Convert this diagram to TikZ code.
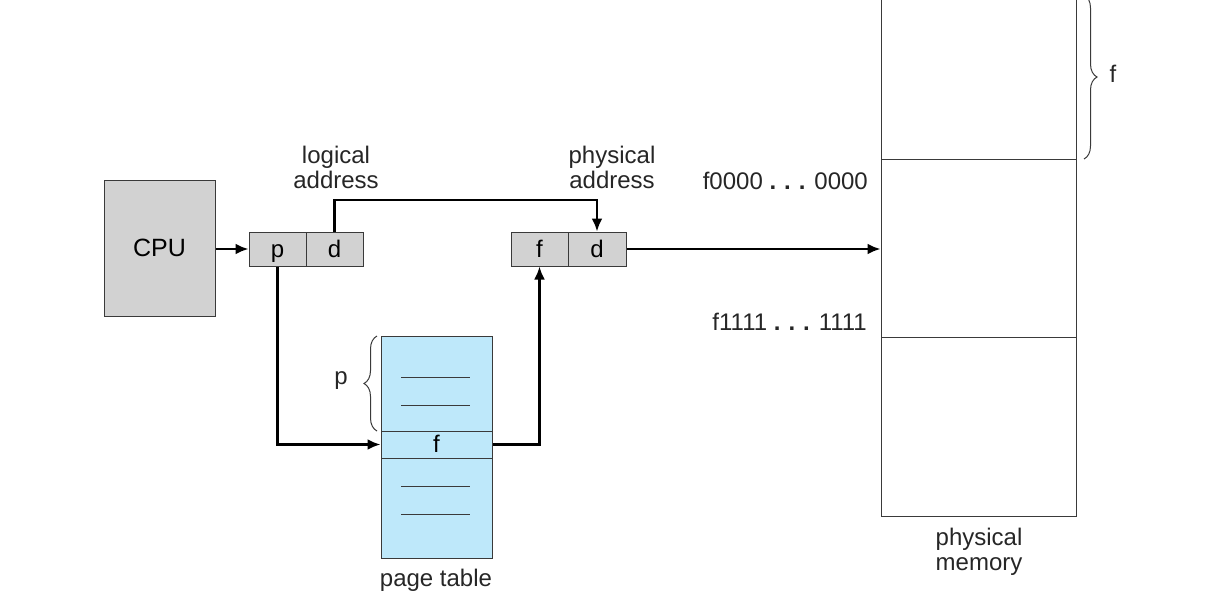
\documentclass[tikz,border=0pt]{standalone}
\usepackage{fontspec}
\setmainfont{Liberation Sans}
\usetikzlibrary{arrows.meta,decorations.pathreplacing,calc}
\definecolor{boxgray}{HTML}{D2D2D2}
\definecolor{ptblue}{HTML}{BEE8FA}
\definecolor{edge}{HTML}{3A3A3A}
\begin{document}
\begin{tikzpicture}[x=1pt,y=-1pt,
  lbl/.style={font=\fontsize{24}{25}\selectfont, text=black!85, inner sep=0pt, align=center},
  cell/.style={draw=edge, line width=1pt, fill=boxgray, minimum width=57pt, minimum height=34pt, inner sep=0pt, text height=17pt, text depth=1pt, font=\fontsize{24}{26}\selectfont},
  ptcell/.style={draw=edge, line width=1pt, fill=ptblue, minimum width=111pt, inner sep=0pt, font=\fontsize{24}{26}\selectfont},
  memcell/.style={draw=edge, line width=1pt, fill=white, minimum width=195pt, inner sep=0pt},
  arr/.style={line width=2.4pt, -{Latex[length=13pt,width=11pt]}},
  bracestyle/.style={draw=edge, line width=1pt, decorate, decoration={brace, amplitude=13pt}},
  entry/.style={draw=edge, line width=1pt}
]
\useasboundingbox (0,0) rectangle (1206,606);
\begin{scope}
\clip (0,0) rectangle (1206,606);
% CPU
\node[draw=edge, line width=1pt, fill=boxgray, minimum width=111pt, minimum height=136pt, inner sep=0pt, font=\fontsize{25}{28}\selectfont] (cpu) at (159.5,248) {CPU};
% logical address
\node[cell] (lp) at (277.5,249) {p};
\node[cell] (ld) at (334.5,249) {d};
\node[lbl] (llab) at (336,167) {logical\\address};
% physical address
\node[cell] (pf) at (539.5,249) {f};
\node[cell, minimum width=58pt] (pd) at (597,249) {d};
\node[lbl] (plab) at (612,167) {physical\\address};
% page table
\node[ptcell, minimum height=95pt] (pttop) at (436.5,383.5) {};
\node[ptcell, minimum height=27pt, text height=17pt, text depth=1pt] (ptf) at (436.5,444.5) {f};
\node[ptcell, minimum height=100pt] (ptbot) at (436.5,508) {};
\draw[entry] (401,377) -- (470,377);
\draw[entry] (401,405) -- (470,405);
\draw[entry] (401,486) -- (470,486);
\draw[entry] (401,514) -- (470,514);
\node[lbl] (ptlab) at (436,580) {page table};
\draw[bracestyle] (377,431) -- (377,336);
\node[lbl] (plabel) at (341,381) {p};
% physical memory
\node[memcell, minimum height=169pt] (mtop) at (978.5,74.5) {};
\node[memcell, minimum height=178pt] (mmid) at (978.5,248) {};
\node[memcell, minimum height=179pt] (mbot) at (978.5,426.5) {};
\node[lbl] (mlab) at (979,552) {physical\\memory};
\draw[bracestyle] (1084,-5) -- (1084,159);
\node[lbl] (flabel) at (1113,74) {f};
\node[lbl, anchor=east] (a0) at (868,181) {f0000 {\bfseries .\,\,.\,\,.} 0000};
\node[lbl, anchor=east] (a1) at (867,322) {f1111 {\bfseries .\,\,.\,\,.} 1111};
% connectors
\draw[arr] (cpu.east |- lp.west) -- (lp.west);
\draw[arr] (ld.north) -- (ld.north |- 0,200) -| (pd.north);
\draw[arr] (lp.south) |- (ptf.west);
\draw[arr] (ptf.east) -| (pf.south);
\draw[arr] (pd.east) -- (pd.east -| mmid.west);
\end{scope}
\end{tikzpicture}
\end{document}
